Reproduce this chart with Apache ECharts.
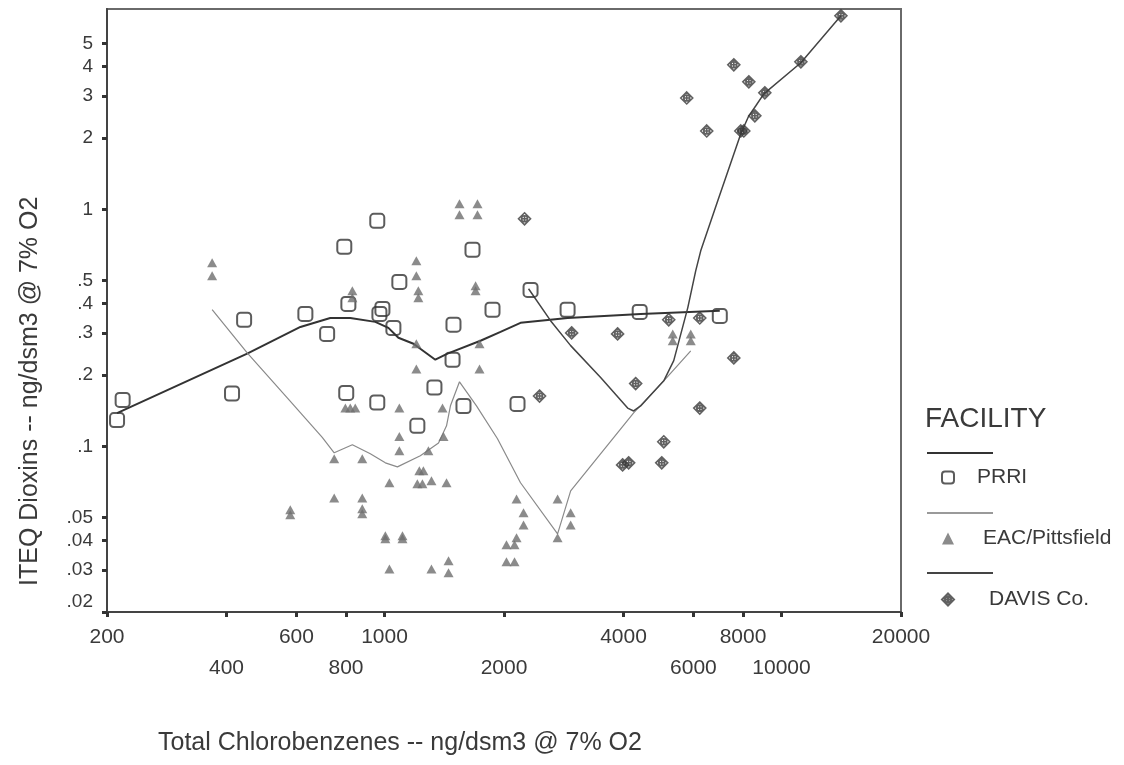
<!DOCTYPE html>
<html>
<head>
<meta charset="utf-8">
<script src="https://cdn.jsdelivr.net/npm/echarts@6/dist/echarts.min.js"></script>
<style>
  html, body { margin: 0; padding: 0; background: #fff; }
  #chart { width: 1124px; height: 765px; }
</style>
</head>
<body>
<div id="chart"></div>
<script>
// Axis ticks and labels
const xTickValues = [200, 400, 600, 800, 1000, 2000, 4000, 6000, 8000, 10000, 20000];
const xLabelsUpper = [200, 600, 1000, 4000, 8000, 20000];
const xLabelsLower = [400, 800, 2000, 6000, 10000];
const yTickValues = [0.02, 0.03, 0.04, 0.05, 0.1, 0.2, 0.3, 0.4, 0.5, 1, 2, 3, 4, 5];

// Facility names
const facilities = ['PRRI', 'EAC/Pittsfield', 'DAVIS Co.'];

// Measurements: [total chlorobenzenes, ITEQ dioxins]
const prriPoints = [
  [212, 0.129], [219, 0.157], [413, 0.167], [443, 0.342], [632, 0.362], [717, 0.298],
  [792, 0.695], [801, 0.168], [811, 0.399], [959, 0.894], [959, 0.153], [971, 0.362],
  [988, 0.380], [1053, 0.316], [1090, 0.494], [1210, 0.122], [1336, 0.177], [1484, 0.232],
  [1492, 0.326], [1581, 0.148], [1666, 0.675], [1871, 0.377], [2163, 0.151], [2333, 0.457],
  [2892, 0.377], [4394, 0.369], [6992, 0.355]
];
const eacPoints = [
  [368, 0.595], [368, 0.524], [579, 0.054], [579, 0.0514], [747, 0.0886], [747, 0.0606],
  [797, 0.145], [820, 0.145], [844, 0.145], [830, 0.453], [830, 0.423], [879, 0.0886],
  [879, 0.0606], [879, 0.0545], [879, 0.0519], [1005, 0.0419], [1005, 0.0407], [1029, 0.0702],
  [1029, 0.0304], [1090, 0.145], [1090, 0.110], [1090, 0.0957], [1110, 0.0419], [1110, 0.0407],
  [1203, 0.606], [1203, 0.524], [1217, 0.453], [1217, 0.423], [1203, 0.271], [1203, 0.212],
  [1210, 0.0695], [1224, 0.0788], [1246, 0.0695], [1253, 0.0788], [1290, 0.0957], [1313, 0.0715],
  [1313, 0.0304], [1400, 0.145], [1408, 0.110], [1433, 0.0702], [1450, 0.0329], [1450, 0.0293],
  [1545, 1.055], [1545, 0.948], [1715, 1.055], [1715, 0.948], [1696, 0.476], [1696, 0.453],
  [1735, 0.271], [1735, 0.212], [2029, 0.0384], [2126, 0.0384], [2029, 0.0326], [2126, 0.0326],
  [2151, 0.0411], [2151, 0.0600], [2240, 0.0524], [2240, 0.0466], [2729, 0.0600], [2729, 0.0411],
  [2944, 0.0524], [2944, 0.0466], [5322, 0.298], [5322, 0.279], [5908, 0.298], [5908, 0.279]
];
const davisPoints = [
  [2253, 0.912], [2458, 0.163], [2961, 0.301], [3865, 0.298], [3979, 0.0835], [4121, 0.0852],
  [4292, 0.184], [4993, 0.0852], [5052, 0.1045], [5200, 0.342], [5772, 2.95], [6225, 0.348],
  [6225, 0.145], [6482, 2.14], [7584, 4.07], [7584, 0.236], [7898, 2.14], [8037, 2.14],
  [8274, 3.45], [8568, 2.48], [9078, 3.10], [11190, 4.19], [14116, 6.55]
];

// Smoothed (lowess) fit for each facility
const prriFit = [
  [212, 0.138], [451, 0.246], [614, 0.319], [730, 0.348], [820, 0.348], [948, 0.335],
  [1023, 0.316], [1084, 0.287], [1183, 0.271], [1343, 0.232], [1441, 0.246], [1745, 0.279],
  [1960, 0.304], [2201, 0.332], [2892, 0.348], [4418, 0.362], [6992, 0.373]
];
const eacFit = [
  [368, 0.377], [451, 0.248], [569, 0.160], [697, 0.109], [747, 0.0939], [830, 0.1015],
  [921, 0.0930], [1005, 0.0852], [1078, 0.0819], [1231, 0.0912], [1368, 0.1034], [1433, 0.1221],
  [1466, 0.1482], [1545, 0.1872], [1705, 0.1482], [1926, 0.1076], [2201, 0.0702], [2729, 0.0427],
  [2944, 0.0649], [4242, 0.1384], [5052, 0.1890], [5908, 0.2529]
];
const davisFit = [
  [2306, 0.462], [2620, 0.339], [2944, 0.266], [3503, 0.195], [4097, 0.145], [4242, 0.141],
  [4418, 0.148], [5052, 0.189], [5353, 0.230], [5806, 0.384], [6080, 0.550], [6260, 0.668],
  [6910, 1.086], [7898, 2.083], [8274, 2.48], [8618, 2.734], [9026, 3.071], [11190, 4.151],
  [14116, 6.55]
];

const textColor = '#3a3a3a';
const fontFamily = 'Liberation Sans, Arial, sans-serif';

// Diamond with a circled cross inside
const davisSymbol = 'path://M0,-10L10,0L0,10L-10,0Z M-5,0A5,5,0,1,0,5,0A5,5,0,1,0,-5,0Z M-5,0L5,0 M0,-5L0,5';

function yLabel(v) {
  const s = v < 1 ? String(v).replace(/^0/, '') : String(v);
  return v === 0.02 ? '{lo|' + s + '}' : s;
}

const chart = echarts.init(document.getElementById('chart'), null, { renderer: 'canvas' });

const option = {
  backgroundColor: '#ffffff',
  animation: false,
  textStyle: { fontFamily: fontFamily, color: textColor },
  title: [
    {
      text: 'Total Chlorobenzenes -- ng/dsm3 @ 7% O2',
      left: 153, top: 726,
      textStyle: { fontSize: 25, fontWeight: 'normal', color: textColor, fontFamily: fontFamily }
    },
    {
      text: 'FACILITY',
      left: 920, top: 400,
      textStyle: { fontSize: 28, fontWeight: 'normal', color: textColor, fontFamily: fontFamily }
    }
  ],
  graphic: [
    {
      type: 'text',
      x: 30, y: 586,
      rotation: Math.PI / 2,
      style: {
        text: 'ITEQ Dioxins -- ng/dsm3 @ 7% O2',
        fontSize: 25,
        fontFamily: fontFamily,
        fill: textColor,
        textVerticalAlign: 'middle'
      }
    }
  ],
  legend: [
    {
      // line samples
      orient: 'vertical',
      left: 922, top: 447,
      itemWidth: 66, itemHeight: 2,
      itemGap: 58,
      selectedMode: false,
      formatter: () => '',
      textStyle: { fontSize: 1 },
      data: [
        { name: 'PRRI fit', icon: 'rect' },
        { name: 'EAC/Pittsfield fit', icon: 'rect' },
        { name: 'DAVIS Co. fit', icon: 'rect' }
      ]
    },
    {
      // markers with names
      orient: 'vertical',
      left: 936, top: 462,
      itemWidth: 12, itemHeight: 12,
      itemGap: 40,
      selectedMode: false,
      textStyle: { fontSize: 21, color: textColor, fontFamily: fontFamily },
      data: [
        { name: facilities[0], textStyle: { padding: [0, 0, 0, 18] } },
        { name: facilities[1], textStyle: { padding: [0, 0, 0, 24] } },
        { name: facilities[2], textStyle: { padding: [0, 0, 0, 30] } }
      ]
    }
  ],
  grid: {
    left: 107, top: 9, width: 794, height: 603,
    show: true, borderColor: '#6a6a6a', borderWidth: 2, backgroundColor: '#fff'
  },
  xAxis: [
    {
      type: 'log', logBase: 10, min: 200, max: 20000,
      position: 'bottom',
      axisLine: { show: true, lineStyle: { color: '#444', width: 2 } },
      axisTick: { show: true, inside: false, length: 5, lineStyle: { color: '#333', width: 3 }, customValues: xTickValues },
      axisLabel: {
        customValues: xLabelsUpper, margin: 15, fontSize: 21, color: textColor, fontFamily: fontFamily,
        formatter: v => String(v)
      },
      splitLine: { show: false },
      minorTick: { show: false }
    },
    {
      type: 'log', logBase: 10, min: 200, max: 20000,
      position: 'bottom',
      axisLine: { show: false },
      axisTick: { show: false },
      axisLabel: {
        customValues: xLabelsLower, margin: 46, fontSize: 21, color: textColor, fontFamily: fontFamily,
        formatter: v => String(v)
      },
      splitLine: { show: false }
    }
  ],
  yAxis: {
    type: 'log', logBase: 10, min: 0.02, max: 7,
    axisLine: { show: true, lineStyle: { color: '#444', width: 2 } },
    axisTick: { show: true, inside: false, length: 5, lineStyle: { color: '#333', width: 3 }, customValues: yTickValues },
    axisLabel: {
      customValues: yTickValues, margin: 14, fontSize: 19, color: textColor, fontFamily: fontFamily,
      formatter: yLabel,
      rich: { lo: { fontSize: 19, color: textColor, fontFamily: fontFamily, padding: [0, 0, 20, 0] } }
    },
    splitLine: { show: false }
  },
  series: [
    {
      name: 'PRRI fit', type: 'line', data: prriFit, symbol: 'none', z: 3,
      lineStyle: { color: '#333', width: 2 }, itemStyle: { color: '#333' }
    },
    {
      name: 'EAC/Pittsfield fit', type: 'line', data: eacFit, symbol: 'none', z: 3,
      lineStyle: { color: '#8a8a8a', width: 1.2 }, itemStyle: { color: '#9a9a9a' }
    },
    {
      name: 'DAVIS Co. fit', type: 'line', data: davisFit, symbol: 'none', z: 3,
      lineStyle: { color: '#444', width: 1.5 }, itemStyle: { color: '#444' }
    },
    {
      name: facilities[0], type: 'scatter', data: prriPoints, z: 4,
      symbol: 'roundRect', symbolSize: 14,
      itemStyle: { color: 'rgba(255,255,255,0)', borderColor: '#333', borderWidth: 2 }
    },
    {
      name: facilities[1], type: 'scatter', data: eacPoints, z: 4,
      symbol: 'triangle', symbolSize: [10, 9],
      itemStyle: { color: '#6e6e6e' }
    },
    {
      name: facilities[2], type: 'scatter', data: davisPoints, z: 4,
      symbol: davisSymbol, symbolSize: 12,
      itemStyle: { color: 'rgba(255,255,255,0)', borderColor: '#3a3a3a', borderWidth: 1.6 }
    }
  ]
};

chart.setOption(option);
</script>
</body>
</html>
